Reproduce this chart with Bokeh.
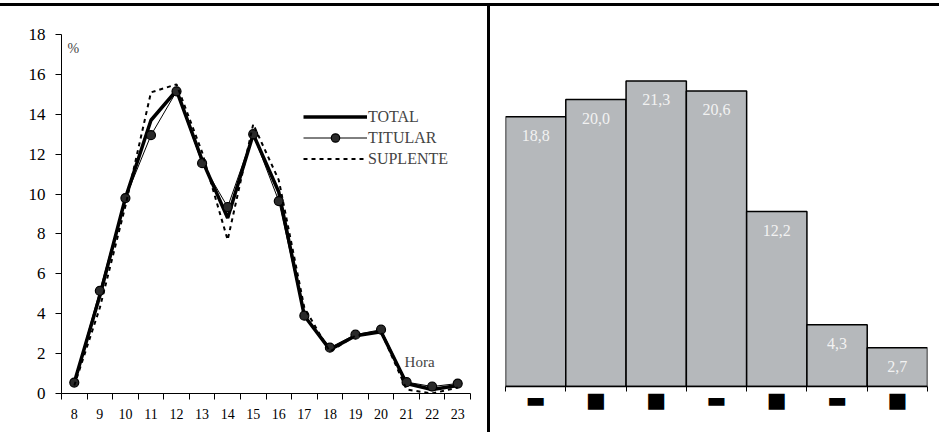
from bokeh.plotting import figure
from bokeh.models import FixedTicker, Legend, LegendItem, Spacer, Label
from bokeh.layouts import row, column
from bokeh.embed import file_html
from bokeh.resources import INLINE
from bokeh.core.properties import value

# ---------------- data ----------------
hours = list(range(8, 24))
total = [0.55, 4.9, 9.8, 13.7, 15.2, 11.7, 8.8, 13.0, 10.1, 3.9, 2.2, 2.9, 3.1, 0.5, 0.2, 0.4]
titular = [0.55, 5.15, 9.8, 12.95, 15.15, 11.55, 9.35, 13.0, 9.65, 3.9, 2.3, 2.95, 3.2, 0.57, 0.35, 0.5]
suplente = [0.4, 4.3, 9.4, 15.1, 15.5, 12.1, 7.7, 13.5, 10.7, 4.3, 2.1, 2.9, 3.1, 0.2, 0.0, 0.3]
y_ticks = [0, 2, 4, 6, 8, 10, 12, 14, 16, 18]
series_names = ["TOTAL", "TITULAR", "SUPLENTE"]

day_labels = ["\u25ac", "\u25a0", "\u25a0", "\u25ac", "\u25a0", "\u25ac", "\u25a0"]
shares = [18.8, 20.0, 21.3, 20.6, 12.2, 4.3, 2.7]
share_labels = ["18,8", "20,0", "21,3", "20,6", "12,2", "4,3", "2,7"]

SERIF = "Liberation Serif"

# ---------------- left chart ----------------
left = figure(width=487, height=426, x_range=(7.5, 23.5), y_range=(0, 18), title=None,
              output_backend="svg", toolbar_location=None, frame_align=False,
              min_border_left=61, min_border_right=17, min_border_top=28, min_border_bottom=39)
left.outline_line_color = None
left.grid.visible = False

xa = left.xaxis[0]
xa.ticker = FixedTicker(ticks=hours, minor_ticks=[h - 0.5 for h in hours] + [hours[-1] + 0.5])
xa.major_tick_out = 0
xa.major_tick_in = 0
xa.minor_tick_out = 6
xa.minor_tick_in = 0
xa.minor_tick_line_color = "black"
xa.major_label_standoff = 9
xa.major_label_text_font = SERIF
xa.major_label_text_font_size = "14px"
xa.major_label_text_color = "black"
xa.axis_line_color = "black"

ya = left.yaxis[0]
ya.ticker = FixedTicker(ticks=y_ticks, minor_ticks=[])
ya.major_tick_out = 6
ya.major_tick_in = 0
ya.major_label_standoff = 10
ya.major_label_text_font = SERIF
ya.major_label_text_font_size = "17px"
ya.major_label_text_color = "black"
ya.axis_line_color = "black"

r_total = left.line(hours, total, line_width=3.5, line_color="black")
r_tit_line = left.line(hours, titular, line_width=1, line_color="black")
r_tit_pts = left.scatter(hours, titular, size=9, fill_color="#2a2a2a", line_color="black", line_width=1.2)
r_sup = left.line(hours, suplente, line_width=2, line_color="black", line_dash="4 4")

legend = Legend(items=[LegendItem(label=series_names[0], renderers=[r_total]),
                       LegendItem(label=series_names[1], renderers=[r_tit_line, r_tit_pts]),
                       LegendItem(label=series_names[2], renderers=[r_sup])],
                location=(242, 224), glyph_width=64, glyph_height=21, label_height=21,
                spacing=0, padding=0, margin=0, border_line_color=None,
                background_fill_alpha=0, label_text_font=SERIF, label_text_font_size="16px",
                label_standoff=1)
left.add_layout(legend)

left.add_layout(Label(x=7.73, y=17.3, text="%", text_font=SERIF, text_font_size="14px",
                      text_baseline="middle"))
left.add_layout(Label(x=20.92, y=1.6, text="Hora", text_font=SERIF, text_font_size="15px",
                      text_baseline="middle"))

# ---------------- right chart ----------------
centers = [i + 0.5 for i in range(len(shares))]
right = figure(width=449, height=426, x_range=(0, len(shares)), y_range=(0, 26), title=None,
               output_backend="svg", toolbar_location=None, y_axis_location=None, frame_align=False,
               min_border_left=15, min_border_right=12, min_border_top=7, min_border_bottom=46)
right.outline_line_color = None
right.grid.visible = False

right.vbar(x=centers, top=shares, width=1, bottom=0, fill_color="#b5b8bb",
           line_color="black", line_width=1.5)
right.text(x=centers, y=shares, text=share_labels, text_align="center", text_baseline="middle",
           y_offset=19, text_color="#f2f2f2", text_font=value(SERIF), text_font_size="16px")

rx = right.xaxis[0]
rx.ticker = FixedTicker(ticks=centers, minor_ticks=list(range(len(shares) + 1)))
rx.major_label_overrides = {c: lab for c, lab in zip(centers, day_labels)}
rx.major_tick_out = 0
rx.major_tick_in = 0
rx.minor_tick_out = 5
rx.minor_tick_in = 0
rx.minor_tick_line_color = "black"
rx.axis_line_color = "black"
rx.axis_line_width = 1.5
rx.major_label_standoff = -4
rx.major_label_text_font = "DejaVu Sans"
rx.major_label_text_font_size = "21px"
rx.major_label_text_color = "black"

# ---------------- page layout ----------------
top_gap = Spacer(width=939, height=3)
top_line = Spacer(width=939, height=3, styles={"background-color": "black"})
divider = Spacer(width=3, height=426, styles={"background-color": "black"})
page = column(top_gap, top_line, row(left, divider, right))

open("out.html", "w").write(file_html(page, INLINE))
